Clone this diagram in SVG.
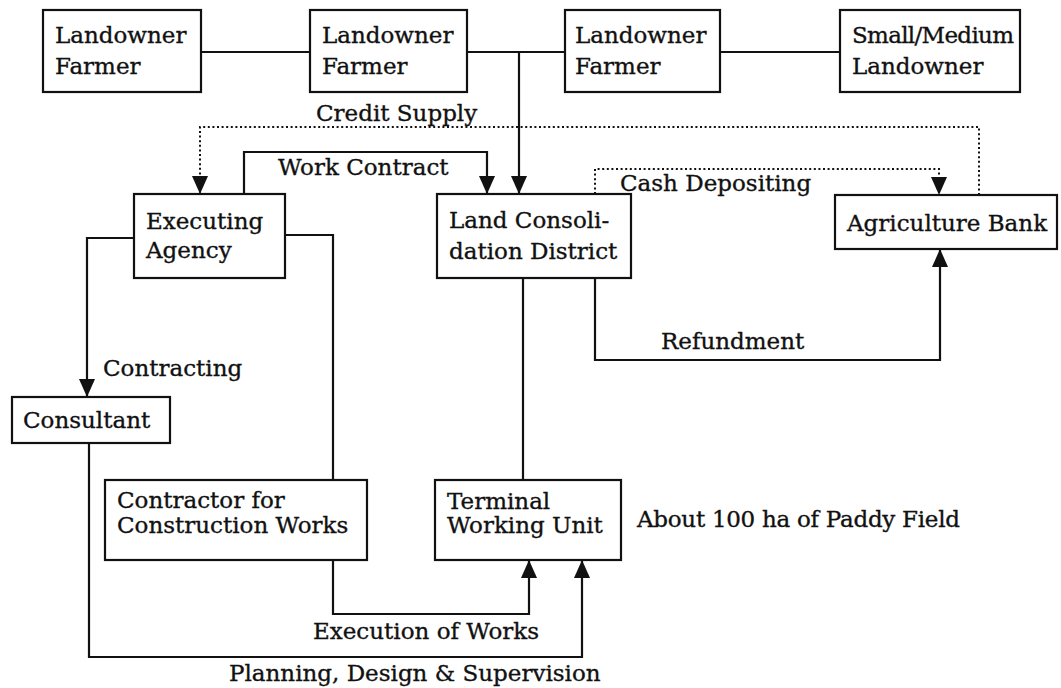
<svg xmlns="http://www.w3.org/2000/svg" width="1061" height="688" viewBox="0 0 1061 688">
  <defs>
    <style>
      .box { fill: #fff; stroke: #111; stroke-width: 2.2; }
      .t { font-family: "DejaVu Serif", "Liberation Serif", serif; font-size: 23px; fill: #111; stroke: #111; stroke-width: 0.35; }
      .ln { fill: none; stroke: #111; stroke-width: 2.2; }
      .dot { fill: none; stroke: #111; stroke-width: 2; stroke-dasharray: 2 2.6; }
    </style>
    <marker id="arr" viewBox="0 0 18 16" refX="18" refY="8" markerWidth="18" markerHeight="16" markerUnits="userSpaceOnUse" orient="auto">
      <path d="M0,0 L18,8 L0,16 z" fill="#111"/>
    </marker>
  </defs>
  <rect width="1061" height="688" fill="#fff"/>

  <g id="connectors">
    <!-- landowners linked along the top -->
    <path class="ln" d="M201,52 H310 M467,52 H565 M720,52 H840"/>
    <path class="ln" d="M519,52 V194" marker-end="url(#arr)"/>
    <!-- credit supply (dotted) -->
    <path class="dot" d="M979,195 V127 H200 V194" marker-end="url(#arr)"/>
    <!-- work contract -->
    <path class="ln" d="M244,194 V152 H487 V194" marker-start="url(#arr)" marker-end="url(#arr)"/>
    <!-- cash depositing (dotted) -->
    <path class="dot" d="M595,194 V169 H939 V195" marker-end="url(#arr)"/>
    <!-- executing agency to consultant -->
    <path class="ln" d="M134,238 H87 V397" marker-end="url(#arr)"/>
    <!-- executing agency to contractor -->
    <path class="ln" d="M285,235 H333 V480"/>
    <!-- land consolidation district to terminal unit -->
    <path class="ln" d="M523,278 V480"/>
    <!-- refundment -->
    <path class="ln" d="M595,278 V360 H940 V249" marker-end="url(#arr)"/>
    <!-- planning, design & supervision -->
    <path class="ln" d="M89,443 V657 H582 V560" marker-end="url(#arr)"/>
    <!-- execution of works -->
    <path class="ln" d="M333,560 V614 H529 V560" marker-end="url(#arr)"/>
  </g>

  <g id="labels">
    <text class="t" x="316" y="121">Credit Supply</text>
    <text class="t" x="278" y="175">Work Contract</text>
    <text class="t" x="620" y="191">Cash Depositing</text>
    <text class="t" x="103" y="376">Contracting</text>
    <text class="t" x="661" y="349">Refundment</text>
    <text class="t" x="313" y="639">Execution of Works</text>
    <text class="t" x="229" y="681">Planning, Design &amp; Supervision</text>
    <text class="t" x="637" y="527" textLength="323">About 100 ha of Paddy Field</text>
  </g>

  <g id="landowner-1">
    <rect class="box" x="43" y="10" width="158" height="82"/>
    <text class="t" x="55" y="43">Landowner</text>
    <text class="t" x="55" y="74">Farmer</text>
  </g>
  <g id="landowner-2">
    <rect class="box" x="310" y="10" width="157" height="82"/>
    <text class="t" x="322" y="43">Landowner</text>
    <text class="t" x="322" y="74">Farmer</text>
  </g>
  <g id="landowner-3">
    <rect class="box" x="565" y="10" width="155" height="82"/>
    <text class="t" x="575" y="43">Landowner</text>
    <text class="t" x="575" y="74">Farmer</text>
  </g>
  <g id="small-medium-landowner">
    <rect class="box" x="840" y="10" width="180" height="82"/>
    <text class="t" x="852" y="43" textLength="162">Small/Medium</text>
    <text class="t" x="852" y="74">Landowner</text>
  </g>
  <g id="executing-agency">
    <rect class="box" x="134" y="194" width="151" height="84"/>
    <text class="t" x="146" y="229">Executing</text>
    <text class="t" x="146" y="258">Agency</text>
  </g>
  <g id="land-consolidation-district">
    <rect class="box" x="437" y="194" width="194" height="84"/>
    <text class="t" x="449" y="228">Land Consoli-</text>
    <text class="t" x="449" y="259">dation District</text>
  </g>
  <g id="agriculture-bank">
    <rect class="box" x="835" y="195" width="222" height="54"/>
    <text class="t" x="847" y="231">Agriculture Bank</text>
  </g>
  <g id="consultant">
    <rect class="box" x="12" y="397" width="158" height="46"/>
    <text class="t" x="23" y="428">Consultant</text>
  </g>
  <g id="contractor">
    <rect class="box" x="105" y="480" width="262" height="80"/>
    <text class="t" x="117" y="508">Contractor for</text>
    <text class="t" x="117" y="533">Construction Works</text>
  </g>
  <g id="terminal-working-unit">
    <rect class="box" x="435" y="480" width="186" height="80"/>
    <text class="t" x="447" y="509">Terminal</text>
    <text class="t" x="447" y="533">Working Unit</text>
  </g>
</svg>
